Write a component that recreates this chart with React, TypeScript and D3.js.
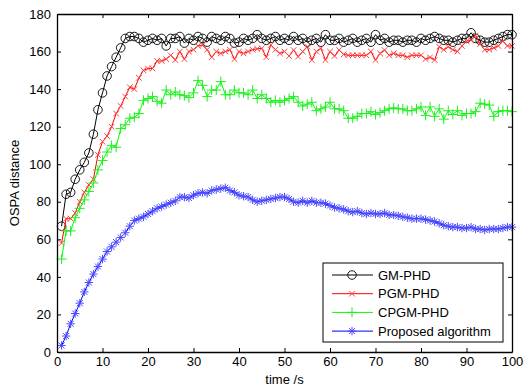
import { useEffect, useRef } from "react";
import * as d3 from "d3";

const WIDTH = 524;
const HEIGHT = 387;
const MARGIN = { top: 14, right: 12, bottom: 35, left: 57 };
const FONT = "'Liberation Sans', Arial, sans-serif";
const FONT_SIZE = "13px";
const TICK_SIZE = 4;

const TIME = d3.range(1, 101);
const X_TICKS = [0, 10, 20, 30, 40, 50, 60, 70, 80, 90, 100];
const Y_TICKS = [0, 20, 40, 60, 80, 100, 120, 140, 160, 180];

const GM_PHD = [
  67, 84, 85, 92, 97, 101, 106, 116, 129, 138, 147, 152, 157, 162, 167, 168, 168, 167, 165, 166,
  167, 166, 167, 163, 167, 167, 168, 164.5, 167, 166, 168, 167, 165, 168, 167, 166, 168, 167, 164.5, 165,
  167, 166, 167, 169, 167, 166, 167, 168, 166, 167, 166, 168, 166, 167, 165, 166, 167, 165, 169, 166,
  166, 167, 165, 166, 167, 165, 166, 167, 165, 169, 166, 167, 165, 166, 166, 165, 166, 166, 165, 167,
  166, 167, 168, 167, 166, 166, 165, 166, 167, 167, 170, 167, 166, 165, 165, 166, 167, 168, 169, 169,
];
const PGM_PHD = [
  58, 71, 71, 74, 80, 85, 89, 92, 105, 112, 115, 120, 127, 131, 136, 141, 140, 146, 150, 151,
  151, 155, 155, 156, 158, 155.5, 160, 156, 160, 161, 163, 163.5, 161, 157, 160, 159, 160, 161, 156, 160,
  159, 160, 161, 161.5, 161.7, 157, 163.5, 161, 159, 160, 157.6, 160.8, 157.3, 160, 162.6, 155.5, 160, 161.7, 155.5, 160,
  157.6, 160.8, 158.5, 158, 158, 158, 158, 158, 160, 155.5, 159, 160.8, 158, 159, 158, 158, 157, 158, 158, 158,
  156, 156.9, 155.5, 162.6, 161, 162.5, 161, 160, 163, 165.5, 166, 168.5, 164, 161, 161, 162, 163, 165.5, 163, 163,
];
const CPGM_PHD = [
  49.5, 64.5, 64.5, 71.5, 76.5, 81, 85.5, 90, 97, 102, 106.5, 110, 109, 119, 121, 124.5, 125, 127, 134, 135,
  136, 133.5, 132.5, 139.5, 137, 138.5, 137, 136.5, 135.5, 138, 144.5, 142, 136, 139.5, 139.5, 144, 137, 137, 139.5, 138,
  138, 137, 139.5, 135, 137, 135, 133, 134, 133, 134, 135, 136, 133, 131, 132, 133, 128.5, 129.5, 130.5, 133,
  129.5, 129.5, 128.5, 124.5, 124.5, 125.5, 127, 127, 128, 126.5, 127.5, 128.5, 129.5, 130, 129.5, 129.5, 128.5, 128.5, 129.5, 130.5,
  126, 130.5, 125.5, 129.5, 124, 128.5, 126.5, 128.5, 126, 127, 127, 128, 132.5, 132, 131.5, 125.5, 128, 128.5, 128.5, 128,
];
const PROPOSED = [
  3.5, 8.5, 15, 20.5, 26, 32, 37, 41.5, 45.5, 49.5, 53.5, 56, 58.5, 61, 63.5, 67, 70, 71, 72, 73.5,
  75, 76.5, 77.5, 78.5, 79.5, 80.5, 82.5, 82.5, 82, 83.5, 84.5, 85, 84.5, 86, 86.5, 87, 87.5, 86, 85, 83.5,
  83, 82.5, 81, 80, 80.5, 81, 81.5, 82, 82.5, 82.5, 81.5, 80, 79.5, 80.5, 79.5, 80.5, 79.5, 79.5, 79, 78,
  77, 76.5, 76, 75, 74.5, 75, 74, 73.5, 74, 73.5, 73.5, 74, 73, 73, 72.5, 72, 71.5, 71, 71, 71,
  70.5, 70, 69.5, 68.5, 67.5, 67, 66.5, 66.5, 66, 66, 66.5, 65.5, 65.5, 65, 65.5, 65.5, 65.5, 66, 66.5, 66.5,
];

const SERIES = [
  { name: "GM-PHD", values: GM_PHD, color: "#000000", marker: "circle" },
  { name: "PGM-PHD", values: PGM_PHD, color: "#ff0000", marker: "x" },
  { name: "CPGM-PHD", values: CPGM_PHD, color: "#00ff00", marker: "plus" },
  { name: "Proposed algorithm", values: PROPOSED, color: "#0000ff", marker: "star" },
];

function markerPath(type: string) {
  if (type === "x") return "M-2.8,-2.8L2.8,2.8M-2.8,2.8L2.8,-2.8";
  if (type === "plus") return "M-5,0L5,0M0,-5L0,5";
  if (type === "star") return "M-4.2,0L4.2,0M0,-4.2L0,4.2M-3,-3L3,3M-3,3L3,-3";
  return "";
}

function markerColor(color: string, type: string) {
  if (type === "x") return "#ff4040";
  if (type === "plus") return "#20ee20";
  if (type === "star") return "#4a4aff";
  return color;
}

export default function App() {
  const svgRef = useRef<SVGSVGElement>(null);

  useEffect(() => {
    if (!svgRef.current) return;
    const svg = d3.select(svgRef.current);
    svg.selectAll("*").remove();

    const x = d3
      .scaleLinear()
      .domain([0, 100])
      .range([MARGIN.left, WIDTH - MARGIN.right]);
    const y = d3
      .scaleLinear()
      .domain([0, 180])
      .range([HEIGHT - MARGIN.bottom, MARGIN.top]);

    svg
      .append("rect")
      .attr("width", WIDTH)
      .attr("height", HEIGHT)
      .attr("fill", "#ffffff");

    const line = d3
      .line<number>()
      .x((d, i) => x(TIME[i]))
      .y((d) => y(d));

    SERIES.forEach((s) => {
      const g = svg.append("g");
      g.append("path")
        .datum(s.values)
        .attr("d", line)
        .attr("fill", "none")
        .attr("stroke", s.color)
        .attr("stroke-width", 1);

      const mc = markerColor(s.color, s.marker);
      if (s.marker === "circle") {
        g.selectAll("circle")
          .data(s.values)
          .enter()
          .append("circle")
          .attr("cx", (d, i) => x(TIME[i]))
          .attr("cy", (d) => y(d))
          .attr("r", 4.3)
          .attr("fill", "none")
          .attr("stroke", mc)
          .attr("stroke-width", 0.9);
      } else {
        g.selectAll("path.m")
          .data(s.values)
          .enter()
          .append("path")
          .attr("class", "m")
          .attr("transform", (d, i) => `translate(${x(TIME[i])},${y(d)})`)
          .attr("d", markerPath(s.marker))
          .attr("fill", "none")
          .attr("stroke", mc)
          .attr("stroke-width", 1);
      }
    });

    // axes (inward ticks on all four sides)
    const bottom = svg
      .append("g")
      .attr("transform", `translate(0,${HEIGHT - MARGIN.bottom})`)
      .call(
        d3.axisBottom(x).tickValues(X_TICKS).tickSizeInner(-TICK_SIZE).tickSizeOuter(0).tickPadding(5)
      );
    const left = svg
      .append("g")
      .attr("transform", `translate(${MARGIN.left},0)`)
      .call(
        d3.axisLeft(y).tickValues(Y_TICKS).tickSizeInner(-TICK_SIZE).tickSizeOuter(0).tickPadding(6)
      );
    const top = svg
      .append("g")
      .attr("transform", `translate(0,${MARGIN.top})`)
      .call(
        d3.axisTop(x).tickValues(X_TICKS).tickSizeInner(-TICK_SIZE).tickSizeOuter(0).tickFormat(() => "")
      );
    const right = svg
      .append("g")
      .attr("transform", `translate(${WIDTH - MARGIN.right},0)`)
      .call(
        d3.axisRight(y).tickValues(Y_TICKS).tickSizeInner(-TICK_SIZE).tickSizeOuter(0).tickFormat(() => "")
      );

    [bottom, left, top, right].forEach((g) => {
      g.select(".domain").attr("stroke", "#000").attr("stroke-width", 1.3);
      g.selectAll(".tick line").attr("stroke", "#000").attr("stroke-width", 1);
      g.selectAll(".tick text")
        .attr("fill", "#000")
        .style("font-family", FONT)
        .style("font-size", FONT_SIZE);
    });

    svg
      .append("text")
      .attr("x", (MARGIN.left + WIDTH - MARGIN.right) / 2)
      .attr("y", 384)
      .attr("text-anchor", "middle")
      .style("font-family", FONT)
      .style("font-size", FONT_SIZE)
      .text("time /s");

    svg
      .append("text")
      .attr("transform", `translate(19,${(MARGIN.top + HEIGHT - MARGIN.bottom) / 2}) rotate(-90)`)
      .attr("text-anchor", "middle")
      .style("font-family", FONT)
      .style("font-size", FONT_SIZE)
      .text("OSPA distance");

    // legend
    const legend = svg.append("g").attr("transform", "translate(323,263)");
    legend
      .append("rect")
      .attr("width", 180)
      .attr("height", 79)
      .attr("fill", "#ffffff")
      .attr("stroke", "#000")
      .attr("stroke-width", 1);

    SERIES.forEach((s, i) => {
      const ly = 12 + i * 18.7;
      const item = legend.append("g").attr("transform", `translate(0,${ly})`);
      item
        .append("line")
        .attr("x1", 9)
        .attr("x2", 50)
        .attr("stroke", s.color)
        .attr("stroke-width", 1);
      const mc = markerColor(s.color, s.marker);
      if (s.marker === "circle") {
        item
          .append("circle")
          .attr("cx", 29)
          .attr("r", 4.3)
          .attr("fill", "none")
          .attr("stroke", mc)
          .attr("stroke-width", 0.9);
      } else {
        item
          .append("path")
          .attr("transform", "translate(29,0)")
          .attr("d", markerPath(s.marker))
          .attr("fill", "none")
          .attr("stroke", mc)
          .attr("stroke-width", 1);
      }
      item
        .append("text")
        .attr("x", 55)
        .attr("dy", "0.35em")
        .style("font-family", FONT)
        .style("font-size", FONT_SIZE)
        .text(s.name);
    });
  }, []);

  return (
    <svg
      ref={svgRef}
      width={WIDTH}
      height={HEIGHT}
      style={{ position: "absolute", left: 0, top: 0 }}
    ></svg>
  );
}
